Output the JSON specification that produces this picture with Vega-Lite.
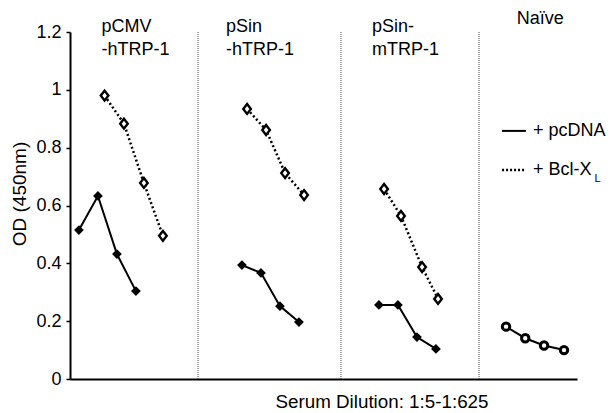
{
  "$schema": "https://vega.github.io/schema/vega-lite/v6.json",
  "width": 507,
  "height": 347,
  "autosize": "none",
  "padding": {"left": 70, "top": 32, "right": 34, "bottom": 34},
  "background": "white",
  "config": {
    "view": {"stroke": null},
    "font": "Liberation Sans",
    "text": {"font": "Liberation Sans", "color": "black"}
  },
  "datasets": {
    "points": [
      {"group": "pCMV-hTRP-1", "series": "pcDNA", "x": 0.47, "od": 0.515},
      {"group": "pCMV-hTRP-1", "series": "pcDNA", "x": 1.47, "od": 0.633},
      {"group": "pCMV-hTRP-1", "series": "pcDNA", "x": 2.47, "od": 0.432},
      {"group": "pCMV-hTRP-1", "series": "pcDNA", "x": 3.47, "od": 0.304},
      {"group": "pCMV-hTRP-1", "series": "Bcl-XL", "x": 1.82, "od": 0.98},
      {"group": "pCMV-hTRP-1", "series": "Bcl-XL", "x": 2.84, "od": 0.883},
      {"group": "pCMV-hTRP-1", "series": "Bcl-XL", "x": 3.89, "od": 0.678},
      {"group": "pCMV-hTRP-1", "series": "Bcl-XL", "x": 4.89, "od": 0.495},
      {"group": "pSin-hTRP-1", "series": "pcDNA", "x": 9.05, "od": 0.394},
      {"group": "pSin-hTRP-1", "series": "pcDNA", "x": 10.05, "od": 0.367},
      {"group": "pSin-hTRP-1", "series": "pcDNA", "x": 11.05, "od": 0.252},
      {"group": "pSin-hTRP-1", "series": "pcDNA", "x": 12.05, "od": 0.197},
      {"group": "pSin-hTRP-1", "series": "Bcl-XL", "x": 9.32, "od": 0.934},
      {"group": "pSin-hTRP-1", "series": "Bcl-XL", "x": 10.32, "od": 0.861},
      {"group": "pSin-hTRP-1", "series": "Bcl-XL", "x": 11.32, "od": 0.712},
      {"group": "pSin-hTRP-1", "series": "Bcl-XL", "x": 12.32, "od": 0.636},
      {"group": "pSin-mTRP-1", "series": "pcDNA", "x": 16.26, "od": 0.256},
      {"group": "pSin-mTRP-1", "series": "pcDNA", "x": 17.26, "od": 0.256},
      {"group": "pSin-mTRP-1", "series": "pcDNA", "x": 18.26, "od": 0.145},
      {"group": "pSin-mTRP-1", "series": "pcDNA", "x": 19.26, "od": 0.104},
      {"group": "pSin-mTRP-1", "series": "Bcl-XL", "x": 16.53, "od": 0.657},
      {"group": "pSin-mTRP-1", "series": "Bcl-XL", "x": 17.42, "od": 0.564},
      {"group": "pSin-mTRP-1", "series": "Bcl-XL", "x": 18.53, "od": 0.387},
      {"group": "pSin-mTRP-1", "series": "Bcl-XL", "x": 19.37, "od": 0.277},
      {"group": "Naive", "series": "Naive", "x": 22.95, "od": 0.181},
      {"group": "Naive", "series": "Naive", "x": 23.96, "od": 0.141},
      {"group": "Naive", "series": "Naive", "x": 24.95, "od": 0.116},
      {"group": "Naive", "series": "Naive", "x": 26.0, "od": 0.1}
    ],
    "separators": [{"x": 6.74}, {"x": 14.26}, {"x": 21.53}],
    "groupLabels": [
      {"label": "pCMV\n-hTRP-1", "x": 1.66, "y": 1.2},
      {"label": "pSin\n-hTRP-1", "x": 8.21, "y": 1.2},
      {"label": "pSin-\nmTRP-1", "x": 15.89, "y": 1.2},
      {"label": "Naïve", "x": 23.51, "y": 1.228}
    ],
    "legendLines": [
      {"series": "pcDNA", "x1": 22.74, "x2": 24.0, "y": 0.858},
      {"series": "Bcl-XL", "x1": 22.74, "x2": 24.0, "y": 0.723}
    ],
    "legendText": [
      {"label": "+ pcDNA", "x": 24.37, "y": 0.858, "size": "big"},
      {"label": "+ Bcl-X", "x": 24.37, "y": 0.723, "size": "big"},
      {"label": "L", "x": 27.6, "y": 0.69, "size": "small"}
    ]
  },
  "layer": [
    {
      "data": {"name": "separators"},
      "mark": {"type": "rule", "color": "#555555", "strokeWidth": 1, "strokeDash": [1, 1]},
      "encoding": {
        "x": {
          "field": "x", "type": "quantitative",
          "scale": {"domain": [0, 26.684], "nice": false, "zero": false},
          "axis": {
            "labels": false, "ticks": false, "grid": false,
            "domain": true, "domainColor": "black", "domainWidth": 2,
            "title": "Serum Dilution: 1:5-1:625",
            "titleFont": "Liberation Sans", "titleFontSize": 18.8, "titleFontWeight": "normal",
            "titleColor": "black", "titleX": 311.5, "titleY": 28, "titleAlign": "center",
            "titleBaseline": "alphabetic"
          }
        },
        "y": {"datum": 0, "type": "quantitative"},
        "y2": {"datum": 1.2}
      }
    },
    {
      "data": {"name": "points"},
      "transform": [{"filter": "datum.series === 'pcDNA'"}],
      "mark": {"type": "line", "color": "black", "strokeWidth": 2},
      "encoding": {
        "x": {"field": "x", "type": "quantitative"},
        "y": {
          "field": "od", "type": "quantitative",
          "scale": {"domain": [0, 1.2], "nice": false, "zero": true},
          "axis": {
            "values": [0, 0.2, 0.4, 0.6, 0.8, 1, 1.2],
            "labelExpr": "format(datum.value, '~g')",
            "grid": false, "domainColor": "black", "domainWidth": 2,
            "tickColor": "black", "tickWidth": 1.5, "tickSize": 4,
            "labelFont": "Liberation Sans", "labelFontSize": 18, "labelColor": "black",
            "labelPadding": 5,
            "title": "OD (450nm)",
            "titleFont": "Liberation Sans", "titleFontSize": 19, "titleFontWeight": "normal",
            "titleColor": "black", "titleX": -45, "titleY": 161.5, "titleAngle": -90,
            "titleAlign": "center", "titleBaseline": "alphabetic"
          }
        },
        "detail": {"field": "group"}
      }
    },
    {
      "data": {"name": "points"},
      "transform": [{"filter": "datum.series === 'Bcl-XL'"}],
      "mark": {"type": "line", "color": "black", "strokeWidth": 2.5, "strokeDash": [2, 2.5]},
      "encoding": {
        "x": {"field": "x", "type": "quantitative"},
        "y": {"field": "od", "type": "quantitative"},
        "detail": {"field": "group"}
      }
    },
    {
      "data": {"name": "points"},
      "transform": [{"filter": "datum.series === 'Naive'"}],
      "mark": {"type": "line", "color": "black", "strokeWidth": 2},
      "encoding": {
        "x": {"field": "x", "type": "quantitative"},
        "y": {"field": "od", "type": "quantitative"},
        "detail": {"field": "group"}
      }
    },
    {
      "data": {"name": "points"},
      "transform": [{"filter": "datum.series === 'pcDNA'"}],
      "mark": {"type": "point", "shape": "diamond", "filled": true, "color": "black", "size": 95, "opacity": 1},
      "encoding": {
        "x": {"field": "x", "type": "quantitative"},
        "y": {"field": "od", "type": "quantitative"}
      }
    },
    {
      "data": {"name": "points"},
      "transform": [{"filter": "datum.series === 'Bcl-XL'"}],
      "mark": {"type": "point", "shape": "M0,-1.3L1,0L0,1.3L-1,0Z", "filled": false, "fill": "white", "stroke": "black", "strokeWidth": 2.4, "size": 58, "opacity": 1, "fillOpacity": 1},
      "encoding": {
        "x": {"field": "x", "type": "quantitative"},
        "y": {"field": "od", "type": "quantitative"}
      }
    },
    {
      "data": {"name": "points"},
      "transform": [{"filter": "datum.series === 'Naive'"}],
      "mark": {"type": "point", "shape": "circle", "filled": false, "fill": "white", "stroke": "black", "strokeWidth": 3, "size": 55, "opacity": 1, "fillOpacity": 1},
      "encoding": {
        "x": {"field": "x", "type": "quantitative"},
        "y": {"field": "od", "type": "quantitative"}
      }
    },
    {
      "data": {"name": "groupLabels"},
      "mark": {"type": "text", "align": "left", "baseline": "alphabetic", "fontSize": 18, "lineHeight": 23, "lineBreak": "\n", "color": "black"},
      "encoding": {
        "x": {"field": "x", "type": "quantitative"},
        "y": {"field": "y", "type": "quantitative"},
        "text": {"field": "label"}
      }
    },
    {
      "data": {"name": "legendLines"},
      "transform": [{"filter": "datum.series === 'pcDNA'"}],
      "mark": {"type": "rule", "color": "black", "strokeWidth": 2},
      "encoding": {
        "x": {"field": "x1", "type": "quantitative"},
        "x2": {"field": "x2"},
        "y": {"field": "y", "type": "quantitative"}
      }
    },
    {
      "data": {"name": "legendLines"},
      "transform": [{"filter": "datum.series === 'Bcl-XL'"}],
      "mark": {"type": "rule", "color": "black", "strokeWidth": 2.5, "strokeDash": [2, 2]},
      "encoding": {
        "x": {"field": "x1", "type": "quantitative"},
        "x2": {"field": "x2"},
        "y": {"field": "y", "type": "quantitative"}
      }
    },
    {
      "data": {"name": "legendText"},
      "transform": [{"filter": "datum.size === 'big'"}],
      "mark": {"type": "text", "align": "left", "baseline": "middle", "fontSize": 18, "color": "black"},
      "encoding": {
        "x": {"field": "x", "type": "quantitative"},
        "y": {"field": "y", "type": "quantitative"},
        "text": {"field": "label"}
      }
    },
    {
      "data": {"name": "legendText"},
      "transform": [{"filter": "datum.size === 'small'"}],
      "mark": {"type": "text", "align": "left", "baseline": "middle", "fontSize": 11, "color": "black"},
      "encoding": {
        "x": {"field": "x", "type": "quantitative"},
        "y": {"field": "y", "type": "quantitative"},
        "text": {"field": "label"}
      }
    }
  ]
}
